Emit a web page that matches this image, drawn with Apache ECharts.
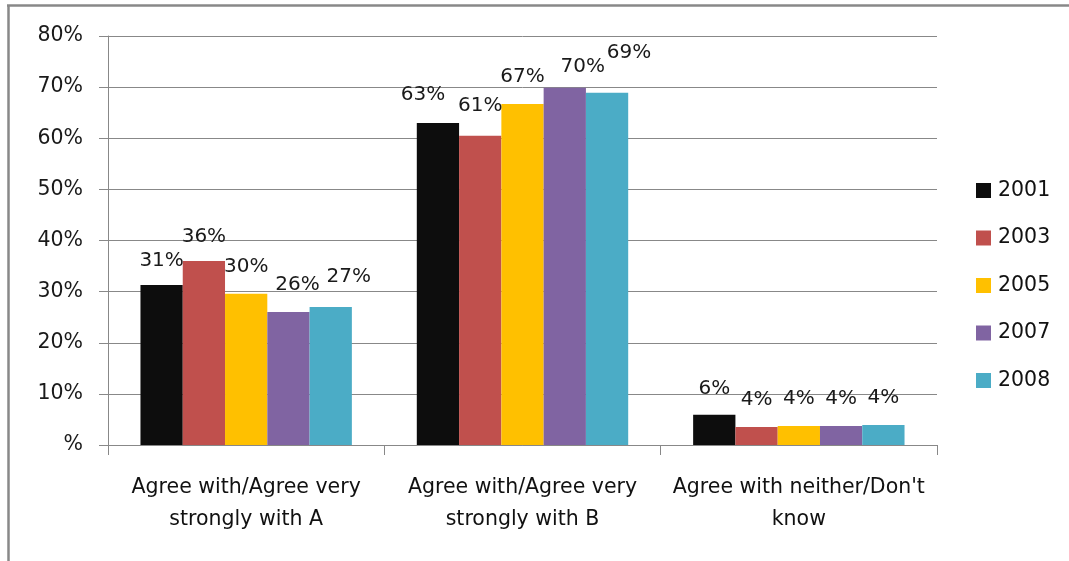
<!DOCTYPE html>
<html>
<head>
<meta charset="utf-8">
<script src="https://cdn.jsdelivr.net/npm/echarts@6/dist/echarts.min.js"></script>
<style>
  html, body { margin: 0; padding: 0; background: #fff; }
  #chart { width: 1069px; height: 561px; }
</style>
</head>
<body>
<div id="chart"></div>
<script>
// Survey responses by year (percent of respondents)
const categories = [
  'Agree with/Agree very\nstrongly with A',
  'Agree with/Agree very\nstrongly with B',
  "Agree with neither/Don't\nknow"
];
const years = ['2001', '2003', '2005', '2007', '2008'];
const values2001 = [31.3, 63.0, 5.9];
const values2003 = [36.0, 60.5, 3.5];
const values2005 = [29.6, 66.7, 3.7];
const values2007 = [26.0, 69.9, 3.7];
const values2008 = [27.0, 68.9, 3.9];
const yTicks = [0, 10, 20, 30, 40, 50, 60, 70, 80];

const seriesValues = [values2001, values2003, values2005, values2007, values2008];
const colors = ['#0d0d0d', '#c0504d', '#ffc000', '#8064a2', '#4bacc6'];

// small hand-placed nudges for the value labels, [dx, dy] per bar
const labelNudges = [
  [[0, -9], [-15, -13], [0, -11]],
  [[0, -9], [0, -15], [0, -12]],
  [[0, -12], [0, -12], [0, -12]],
  [[9, -12], [18, -6], [0, -12]],
  [[18, -15], [22, -25], [0, -12]]
];

const FONT = '"DejaVu Sans", Verdana, sans-serif';

const chart = echarts.init(document.getElementById('chart'), null, { renderer: 'canvas' });

const series = years.map((y, s) => ({
  name: y,
  type: 'bar',
  barGap: '0%',
  barCategoryGap: '23.5%',
  itemStyle: { color: colors[s] },
  label: {
    show: true,
    position: 'top',
    distance: 5,
    fontFamily: FONT,
    fontSize: 20,
    color: '#1a1a1a',
    formatter: p => Math.round(p.value) + '%'
  },
  data: seriesValues[s].map((v, i) => ({
    value: v,
    label: { offset: labelNudges[s][i] }
  }))
}));

chart.setOption({
  animation: false,
  backgroundColor: '#ffffff',
  grid: { left: 108, right: 132, top: 36, bottom: 116, containLabel: false },
  legend: {
    orient: 'vertical',
    left: 976,
    top: 180,
    padding: 0,
    itemWidth: 15,
    itemHeight: 15,
    itemGap: 26.5,
    icon: 'rect',
    data: years,
    textStyle: {
      fontFamily: FONT,
      fontSize: 20.5,
      lineHeight: 20,
      color: '#111',
      padding: [0, 0, 0, 2]
    }
  },
  xAxis: {
    type: 'category',
    data: categories,
    axisLine: { lineStyle: { color: '#888', width: 1 } },
    axisTick: { show: true, length: 10, lineStyle: { color: '#888' } },
    axisLabel: {
      margin: 27,
      fontFamily: FONT,
      fontSize: 20.5,
      lineHeight: 32,
      color: '#111',
      interval: 0
    }
  },
  yAxis: {
    type: 'value',
    min: yTicks[0],
    max: yTicks[yTicks.length - 1],
    interval: yTicks[1] - yTicks[0],
    axisLine: { show: true, lineStyle: { color: '#888', width: 1 } },
    axisTick: { show: true, inside: false, length: 9, lineStyle: { color: '#888' } },
    splitLine: { show: true, lineStyle: { color: '#888', width: 1 } },
    axisLabel: {
      margin: 25,
      fontFamily: FONT,
      fontSize: 20.5,
      color: '#1a1a1a',
      formatter: v => (v === 0 ? '%' : v + '%')
    }
  },
  graphic: [
    { type: 'line', shape: { x1: 7, y1: 5.5, x2: 1069, y2: 5.5 }, style: { stroke: '#888', lineWidth: 2.5 } },
    { type: 'line', shape: { x1: 8.5, y1: 5, x2: 8.5, y2: 561 }, style: { stroke: '#888', lineWidth: 2.5 } }
  ],
  series: series
});
</script>
</body>
</html>
